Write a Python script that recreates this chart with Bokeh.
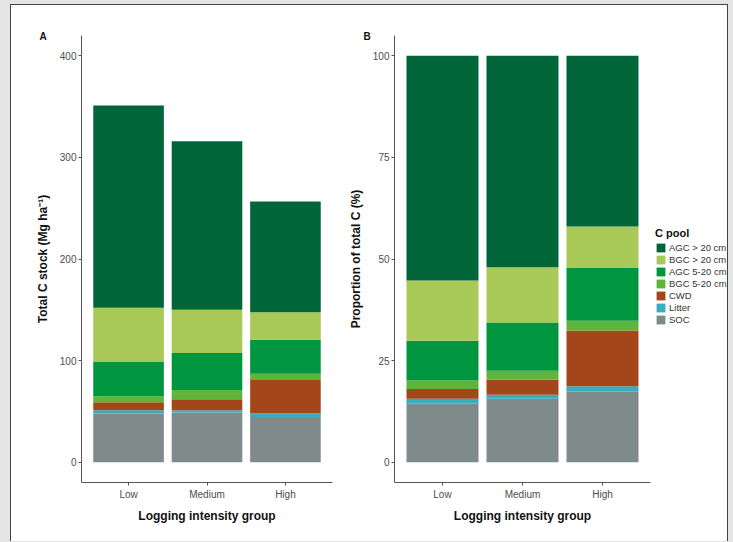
from bokeh.plotting import figure
from bokeh.models import (ColumnDataSource, FactorRange, Range1d, FixedTicker,
                          Legend, LegendItem)
from bokeh.layouts import row, column
from bokeh.embed import file_html
from bokeh.resources import INLINE

# ---------------- data ----------------
groups = ["Low", "Medium", "High"]
pools = ["SOC", "Litter", "CWD", "BGC 5-20 cm", "AGC 5-20 cm", "BGC > 20 cm", "AGC > 20 cm"]
keys = ["soc", "litter", "cwd", "bgc_small", "agc_small", "bgc_large", "agc_large"]
colors = ["#7e8b8a", "#36aebf", "#a3461a", "#5db53a", "#00963f", "#a8c957", "#00663a"]

# Panel A: total C stock (Mg ha-1), stacked segments per group
stock_soc = [48, 49, 44.5]
stock_litter = [3, 2, 3.3]
stock_cwd = [8, 11, 33.2]
stock_bgc_small = [6, 9, 6]
stock_agc_small = [34, 36.5, 33.6]
stock_bgc_large = [53, 42.5, 27.1]
stock_agc_large = [199, 166, 108.8]

# Panel B: proportion of total C (%)
prop_soc = [14.4, 15.6, 17.4]
prop_litter = [1.2, 1.0, 1.3]
prop_cwd = [2.4, 3.7, 13.7]
prop_bgc_small = [2.1, 2.2, 2.4]
prop_agc_small = [9.8, 11.9, 13.0]
prop_bgc_large = [14.8, 13.6, 10.2]
prop_agc_large = [55.3, 52.0, 42.0]

ticks_a = [0, 100, 200, 300, 400]
ticks_b = [0, 25, 50, 75, 100]

FONT = "Liberation Sans"

src_a = ColumnDataSource(dict(group=groups, soc=stock_soc, litter=stock_litter, cwd=stock_cwd,
                              bgc_small=stock_bgc_small, agc_small=stock_agc_small,
                              bgc_large=stock_bgc_large, agc_large=stock_agc_large))
src_b = ColumnDataSource(dict(group=groups, soc=prop_soc, litter=prop_litter, cwd=prop_cwd,
                              bgc_small=prop_bgc_small, agc_small=prop_agc_small,
                              bgc_large=prop_bgc_large, agc_large=prop_agc_large))


def style(p, ticks, ylabel, tag, tag_offset):
    p.xgrid.grid_line_color = None
    p.ygrid.grid_line_color = None
    p.outline_line_color = None
    p.background_fill_color = "white"
    p.border_fill_color = "white"
    p.yaxis.ticker = FixedTicker(ticks=ticks)
    for ax in (p.xaxis[0], p.yaxis[0]):
        ax.axis_line_color = "#555555"
        ax.axis_line_width = 1
        ax.major_tick_line_color = "#555555"
        ax.major_tick_out = 3
        ax.major_tick_in = 0
        ax.minor_tick_line_color = None
        ax.major_label_text_font = FONT
        ax.major_label_text_font_size = "10px"
        ax.major_label_text_color = "#4d4d4d"
        ax.axis_label_text_font = FONT
        ax.axis_label_text_font_size = "12px"
        ax.axis_label_text_font_style = "bold"
        ax.axis_label_text_color = "#111111"
    p.xaxis.major_label_standoff = 3
    p.xaxis.axis_label_standoff = 6
    p.yaxis.major_label_standoff = 2
    p.yaxis.axis_label_standoff = 7
    p.xaxis.axis_label = "Logging intensity group"
    p.yaxis.axis_label = ylabel
    p.title.text = tag
    p.title.align = "left"
    p.title.offset = tag_offset
    p.title.standoff = -13
    p.title.vertical_align = "bottom"
    p.title.text_font = FONT
    p.title.text_font_size = "10px"
    p.title.text_font_style = "bold"
    p.title.text_color = "#111111"


# ---------------- panel A ----------------
pA = figure(x_range=FactorRange(*groups, range_padding=0.1, range_padding_units="absolute"),
            y_range=Range1d(-20, 420), width=334, height=536,
            min_border_left=70, min_border_right=13, min_border_top=30, min_border_bottom=59,
            output_backend="svg", toolbar_location=None)
pA.vbar_stack(keys, x="group", width=0.9, color=colors, line_color=None, source=src_a)
style(pA, ticks_a, "Total C stock (Mg ha\u207b\u00b9)", "A", -42)

# ---------------- panel B ----------------
pB = figure(x_range=FactorRange(*groups, range_padding=0.1, range_padding_units="absolute"),
            y_range=Range1d(-5, 105), width=308, height=536,
            min_border_left=45, min_border_right=3, min_border_top=30, min_border_bottom=59,
            output_backend="svg", toolbar_location=None)
pB.vbar_stack(keys, x="group", width=0.9, color=colors, line_color=None, source=src_b)
style(pB, ticks_b, "Proportion of total C (%)", "B", -31)

# ---------------- legend (own small canvas) ----------------
pL = figure(width=74, height=536, x_range=Range1d(0, 1), y_range=Range1d(0, 1),
            min_border=0, output_backend="svg", toolbar_location=None)
pL.axis.visible = False
pL.grid.grid_line_color = None
pL.outline_line_color = None
pL.background_fill_color = "white"
pL.border_fill_color = "white"
offscreen = ColumnDataSource(dict(x=[-10], y=[-10]))
swatches = [pL.rect(x="x", y="y", width=1, height=1, fill_color=c, line_color=None,
                    source=offscreen)
            for c in colors]
items = [LegendItem(label=pools[i], renderers=[swatches[i]]) for i in reversed(range(len(pools)))]
legend = Legend(items=items, location=(2, 157), title="C pool",
                title_text_font=FONT, title_text_font_size="11px", title_text_font_style="bold",
                title_text_color="#111111", title_standoff=2,
                label_text_font=FONT, label_text_font_size="9.5px", label_text_color="#333333",
                label_height=12, glyph_height=11, glyph_width=11, spacing=0,
                label_standoff=3, padding=0, margin=0,
                border_line_color=None, background_fill_alpha=0)
pL.add_layout(legend, "center")

inner = row(pA, pB, pL, margin=(4, 0, 0, 10),
            styles={"border-left": "1px solid #444444", "border-right": "1px solid #444444",
                    "border-top": "1px solid #444444", "background-color": "white"})
outer = column(inner, styles={"background-color": "#e4e4e4", "width": "733px", "height": "542px",
                              "overflow": "hidden"})

open("out.html", "w").write(file_html(outer, INLINE))
